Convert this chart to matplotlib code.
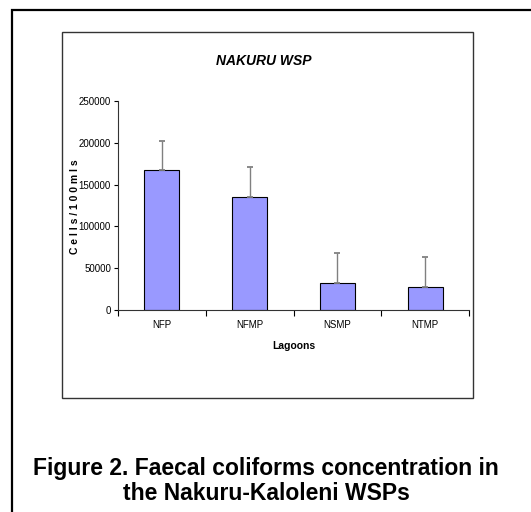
import matplotlib.pyplot as plt
from matplotlib.patches import Rectangle
import numpy as np

# data
lagoons = ['NFP', 'NFMP', 'NSMP', 'NTMP']
cells = [168000, 135000, 32000, 27000]
err = [34000, 36000, 36000, 36000]
yticks = [0, 50000, 100000, 150000, 200000, 250000]

plt.rcParams['font.family'] = ['Liberation Sans', 'DejaVu Sans']

fig = plt.figure(figsize=(5.31, 5.12), dpi=100)

# outer frame (runs off the right and bottom edges) and chart frame
fig.patches.append(Rectangle((12/531, -0.05), 1.1, 1 - 10/512 + 0.05, transform=fig.transFigure,
                             fill=False, edgecolor='black', linewidth=1.6))
fig.patches.append(Rectangle((62/531, 1 - 398/512), (473-62)/531, (398-32)/512, transform=fig.transFigure,
                             fill=False, edgecolor='#333333', linewidth=1.0))

ax = fig.add_axes([118/531, 1 - 310/512, 351/531, 209/512])
x = np.arange(len(lagoons))
ax.bar(x, cells, width=0.4, color='#9999FF', edgecolor='black', linewidth=0.8, zorder=2)
eb = ax.errorbar(x, cells, yerr=[np.zeros(len(err)), err], fmt='none', ecolor='#808080',
                 elinewidth=1.0, capsize=2.5, capthick=1.3, zorder=3)
for cap in eb[1]:
    cap.set_color('black')
ax.set_xlim(-0.5, 3.5)
ax.set_ylim(0, 250000)
ax.set_yticks(yticks)
ax.set_yticklabels([str(v) for v in yticks], fontsize=7)
ax.set_xticks(x)
ax.set_xticklabels(lagoons, fontsize=7)
ax.set_xticks(np.arange(-0.5, 4, 1), minor=True)
ax.tick_params(axis='x', which='major', length=0, pad=7)
ax.tick_params(axis='x', which='minor', length=4, direction='out', width=0.8)
ax.tick_params(axis='y', length=3, direction='out', width=0.8, pad=2)
for s in ['top', 'right']:
    ax.spines[s].set_visible(False)
for s in ['left', 'bottom']:
    ax.spines[s].set_linewidth(0.8)
    ax.spines[s].set_color('#333333')

ax.set_xlabel('Lagoons', fontsize=7.5, fontweight='bold', labelpad=8)
fig.text(75/531, 1 - 207/512, 'C e l l s / 1 0 0 m l s', rotation=90, fontsize=7.5,
         fontweight='bold', ha='center', va='center')
fig.text(264/531, 1 - 61/512, 'NAKURU WSP', fontsize=10, fontweight='bold', style='italic',
         ha='center', va='center')

fig.text(266/531, 1 - 469/512, 'Figure 2. Faecal coliforms concentration in',
         fontsize=16.5, fontweight='bold', ha='center', va='center')
fig.text(266/531, 1 - 493/512, 'the Nakuru-Kaloleni WSPs',
         fontsize=16.5, fontweight='bold', ha='center', va='center')

fig.savefig('out.png', dpi=100)
